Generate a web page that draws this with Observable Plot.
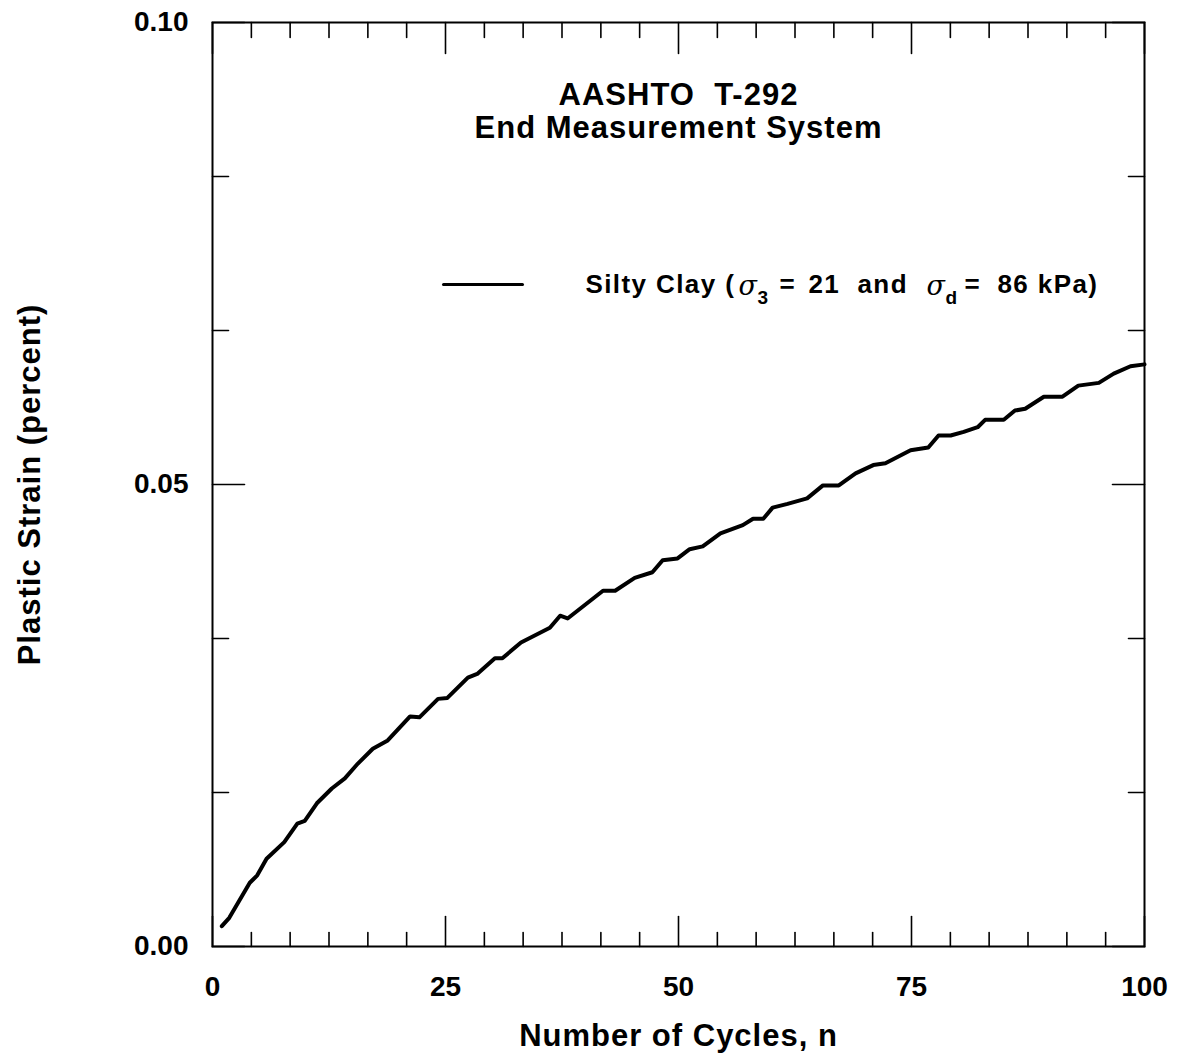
<!DOCTYPE html>
<html>
<head>
<meta charset="utf-8">
<script src="https://cdn.jsdelivr.net/npm/d3@7"></script>
<script src="https://cdn.jsdelivr.net/npm/@observablehq/plot@0.6"></script>
<style>
  html, body { margin: 0; padding: 0; background: #fff; }
  #chart svg { display: block; }
  #chart svg g[font-size="31"] { letter-spacing: 1px; }
  #chart svg g[font-size="26"] { letter-spacing: 1.4px; }
</style>
</head>
<body>
<div id="chart"></div>
<script>
// ---- data ----
const cycles = [1, 1.8, 4.0, 4.8, 5.8, 7.7, 9.1, 9.9, 11.2, 12.8, 14.2, 15.6, 17.2, 18.8, 21.2, 22.2, 24.2, 25.2, 27.4, 28.4,
  30.3, 31.1, 33.1, 36.2, 37.3, 38.1, 41.9, 43.2, 45.3, 47.2, 48.3, 49.9, 51.2, 52.6, 54.5, 56.9, 58.0, 59.1, 60.1, 61.7,
  63.8, 65.5, 67.2, 69.0, 70.9, 72.2, 74.9, 76.8, 77.9, 79.2, 80.6, 82.1, 82.9, 84.9, 86.1, 87.2, 89.2, 91.2, 92.9, 95.1,
  96.7, 98.5, 100];
const strain = [0.0022, 0.0031, 0.0069, 0.0077, 0.0095, 0.0113, 0.0133, 0.0136, 0.0155, 0.0171, 0.0182, 0.0198, 0.0214, 0.0223, 0.0249, 0.0248, 0.0268, 0.0269, 0.0291, 0.0295,
  0.0312, 0.0312, 0.0329, 0.0345, 0.0358, 0.0355, 0.0385, 0.0385, 0.0399, 0.0405, 0.0418, 0.0420, 0.0430, 0.0433, 0.0447, 0.0456, 0.0463, 0.0463, 0.0475, 0.0479,
  0.0485, 0.0499, 0.0499, 0.0512, 0.0521, 0.0523, 0.0537, 0.0540, 0.0553, 0.0553, 0.0557, 0.0562, 0.0570, 0.0570, 0.0580, 0.0582, 0.0595, 0.0595, 0.0607, 0.0610,
  0.0620, 0.0628, 0.0630];

const xTicks = [0, 25, 50, 75, 100];
const xMinorTicks = [4.17, 8.33, 12.5, 16.67, 20.83, 29.17, 33.33, 37.5, 41.67, 45.83,
  54.17, 58.33, 62.5, 66.67, 70.83, 79.17, 83.33, 87.5, 91.67, 95.83];
const yTicks = [0, 0.05, 0.10];
const yMinorTicks = [0.01667, 0.03333, 0.06667, 0.08333];

const titleLines = ["AASHTO\u00a0\u00a0T-292", "End Measurement System"];
const xLabel = "Number of Cycles, n";
const yLabel = "Plastic Strain (percent)";
const seriesName = "Silty Clay";
const sigma3 = "21";
const sigmaD = "86";

const table = cycles.map((n, i) => ({n, v: strain[i]}));

const FONT = "Liberation Sans, Arial, Helvetica, sans-serif";
const tickShape = {draw(ctx, l) { ctx.moveTo(0, 0); ctx.lineTo(0, -l); }};
const tickSet = (data, ch, anchor, rotate, length) =>
  Plot.vector(data, {[ch]: d => d, frameAnchor: anchor, rotate, length, anchor: "start",
    shape: tickShape, stroke: "black", strokeWidth: 1.6});

const txt = (s, o) => Plot.text([s], {text: d => d, fontFamily: FONT, fill: "black",
  lineAnchor: "middle", textAnchor: "middle", ...o});
// legend pieces: placed from the frame's top-left corner
const leg = (s, dx, o = {}) => txt(s, {frameAnchor: "top-left", dx, dy: 262, textAnchor: "start",
  fontSize: 26, fontWeight: "bold", ...o});
const sigma = (dx) => leg("\u03c3", dx, {fontSize: 27, fontWeight: "normal", fontStyle: "italic", fontFamily: "DejaVu Serif, serif", dy: 264});
const sub = (s, dx) => leg(s, dx, {fontSize: 19, dy: 275});

const plot = Plot.plot({
  width: 1178,
  height: 1063,
  marginTop: 22,
  marginBottom: 117,
  marginLeft: 212,
  marginRight: 34,
  style: {fontFamily: FONT, background: "white", color: "black"},
  x: {domain: [0, 100]},
  y: {domain: [0, 0.10]},
  marks: [
    // inward ticks: bottom, top, left, right
    tickSet(xMinorTicks, "x", "bottom", 0, 14),
    tickSet(xTicks, "x", "bottom", 0, 30),
    tickSet(xMinorTicks, "x", "top", 180, 15),
    tickSet(xTicks, "x", "top", 180, 31),
    tickSet(yMinorTicks, "y", "left", 90, 16),
    tickSet(yTicks, "y", "left", 90, 32),
    tickSet(yMinorTicks, "y", "right", -90, 16),
    tickSet(yTicks, "y", "right", -90, 32),
    Plot.axisX({ticks: xTicks, tickSize: 0, tickPadding: 30, label: null,
      fontSize: 28, fontWeight: "bold", tickFormat: d => String(d)}),
    Plot.axisY({ticks: yTicks, tickSize: 0, tickPadding: 24, label: null,
      fontSize: 28, fontWeight: "bold", tickFormat: d3.format(".2f")}),
    Plot.frame({stroke: "black", strokeWidth: 2}),
    Plot.line(table, {x: "n", y: "v", stroke: "black", strokeWidth: 4, strokeLinejoin: "round", strokeLinecap: "round"}),
    // titles
    txt(titleLines[0], {frameAnchor: "top", dy: 73, fontSize: 31, fontWeight: "bold"}),
    txt(titleLines[1], {frameAnchor: "top", dy: 106, fontSize: 31, fontWeight: "bold"}),
    // axis labels
    txt(xLabel, {frameAnchor: "bottom", dy: 90, fontSize: 31, fontWeight: "bold"}),
    txt(yLabel, {frameAnchor: "left", dx: -182, rotate: -90, fontSize: 31, fontWeight: "bold"}),
    // legend
    Plot.vector([seriesName], {frameAnchor: "top-left", dx: 231, dy: 262, rotate: 90, length: 79, anchor: "start",
      shape: tickShape, stroke: "black", strokeWidth: 3}),
    leg(seriesName + "\u00a0(", 373),
    sigma(526),
    sub("3", 545),
    leg("=", 567),
    leg(sigma3, 596),
    leg("and", 645),
    sigma(714),
    sub("d", 733),
    leg("=", 752),
    leg(sigmaD + "\u00a0kPa)", 785)
  ]
});
document.getElementById("chart").appendChild(plot);
</script>
</body>
</html>
